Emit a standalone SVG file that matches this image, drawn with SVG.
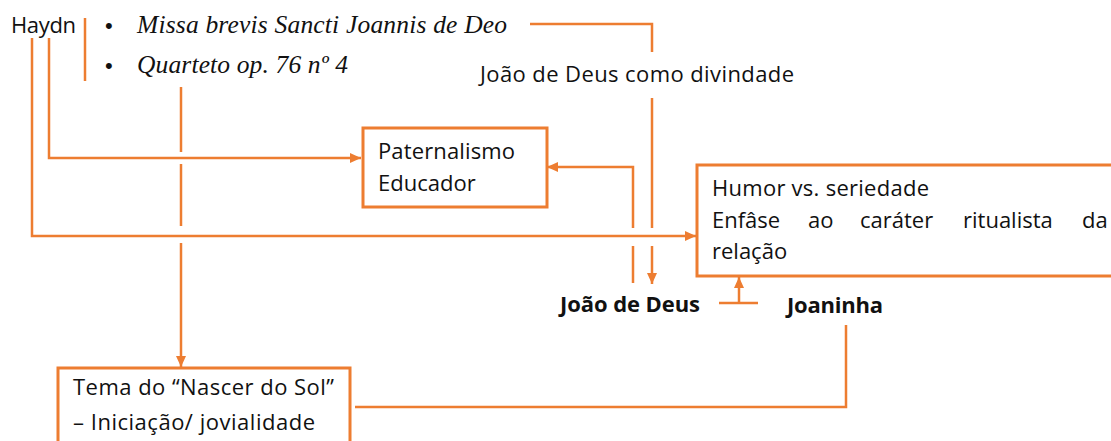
<svg xmlns="http://www.w3.org/2000/svg" width="1111" height="441" viewBox="0 0 1111 441">
<style>
.ln{fill:none;stroke:#ED7D31;stroke-width:2.5}
.bx{fill:#fff;stroke:#ED7D31;stroke-width:3}
.t{font-family:"Open Sans","Noto Sans",sans-serif;font-size:22px;fill:#111}
.b{font-family:"Open Sans","Noto Sans",sans-serif;font-size:22px;font-weight:bold;fill:#111}
.s{font-family:"Liberation Serif","Times New Roman",serif;font-size:25.5px;font-style:italic;fill:#111}
.d{font-family:"Liberation Sans",Arial,sans-serif;font-size:22px;fill:#111}
</style>
<defs>
<marker id="ah" markerUnits="userSpaceOnUse" markerWidth="12" markerHeight="10" refX="11" refY="5" orient="auto">
<path d="M0,0 L11,5 L0,10 z" fill="#ED7D31"/>
</marker>
</defs>
<rect width="1111" height="441" fill="#fff"/>
<g id="connectors">
<line class="ln" x1="85" y1="18" x2="85" y2="81"/>
<polyline class="ln" points="530,24 652,24 652,52"/>
<line class="ln" x1="652" y1="98" x2="652" y2="228"/>
<line class="ln" x1="652" y1="246" x2="652" y2="284" marker-end="url(#ah)"/>
<line class="ln" x1="633" y1="283" x2="633" y2="246"/>
<polyline class="ln" points="633,228 633,167 547,167" marker-end="url(#ah)"/>
<polyline class="ln" points="32,38 32,236 696,236" marker-end="url(#ah)"/>
<polyline class="ln" points="49,38 49,158 361,158" marker-end="url(#ah)"/>
<line class="ln" x1="181" y1="87" x2="181" y2="152"/>
<line class="ln" x1="181" y1="164" x2="181" y2="226"/>
<line class="ln" x1="181" y1="243" x2="181" y2="367" marker-end="url(#ah)"/>
<line class="ln" x1="719" y1="303" x2="758" y2="303"/>
<line class="ln" x1="739" y1="303" x2="739" y2="277" marker-end="url(#ah)"/>
<polyline class="ln" points="846,325 846,407 355,407"/>
</g>
<g id="haydn">
<text class="t" x="11" y="33" textLength="65">Haydn</text>
</g>
<g id="works">
<text class="d" x="105" y="33">•</text>
<text class="s" x="137" y="33" textLength="370">Missa brevis Sancti Joannis de Deo</text>
<text class="d" x="105" y="73">•</text>
<text class="s" x="137" y="73" textLength="211">Quarteto op. 76 nº 4</text>
</g>
<g id="divindade">
<text class="t" x="480" y="82" textLength="314">João de Deus como divindade</text>
</g>
<g id="paternalismo">
<rect class="bx" x="363" y="128" width="184" height="79"/>
<text class="t" x="378" y="159" textLength="137">Paternalismo</text>
<text class="t" x="378" y="191">Educador</text>
</g>
<g id="humor">
<rect class="bx" x="697" y="165" width="430" height="111"/>
<text class="t" x="712" y="196" textLength="217">Humor vs. seriedade</text>
<text class="t" x="712" y="228">Enfâse</text>
<text class="t" x="808" y="228">ao</text>
<text class="t" x="860" y="228">caráter</text>
<text class="t" x="963" y="228">ritualista</text>
<text class="t" x="1082" y="228">da</text>
<text class="t" x="712" y="259">relação</text>
</g>
<g id="joao">
<text class="b" x="560" y="312" textLength="140">João de Deus</text>
</g>
<g id="joaninha">
<text class="b" x="787" y="313" textLength="96">Joaninha</text>
</g>
<g id="tema">
<rect class="bx" x="58" y="368" width="292" height="90"/>
<text class="t" x="73" y="395" font-size="21" textLength="261">Tema do “Nascer do Sol”</text>
<text class="t" x="73" y="430" font-size="21" textLength="242">– Iniciação/ jovialidade</text>
</g>
</svg>
